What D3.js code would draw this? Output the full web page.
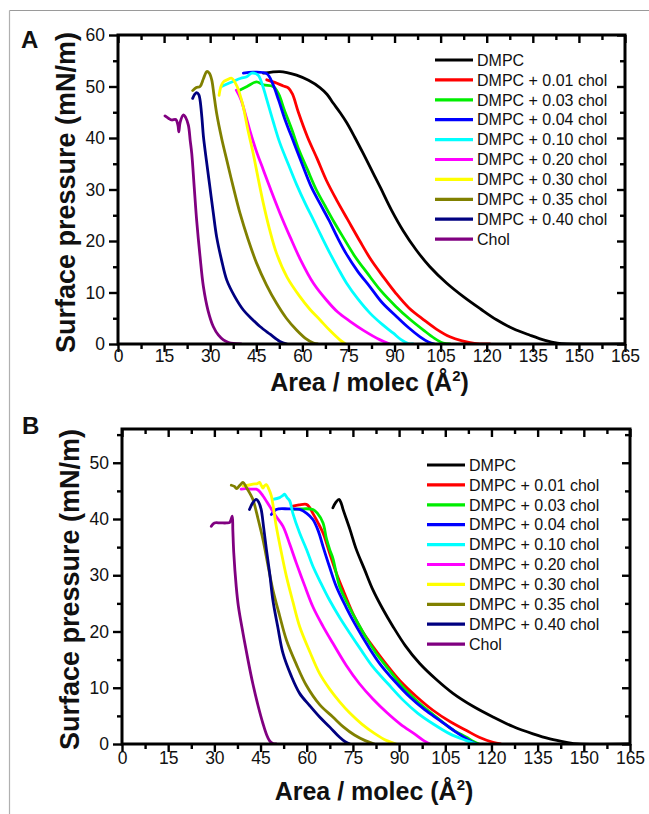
<!DOCTYPE html>
<html><head><meta charset="utf-8">
<script src="https://cdn.jsdelivr.net/npm/d3@7"></script>
<style>html,body{margin:0;padding:0;background:#fff;}svg{display:block;}</style>
</head><body>
<script>
// ---------- DATA ----------
const seriesNames = ["DMPC","DMPC + 0.01 chol","DMPC + 0.03 chol","DMPC + 0.04 chol","DMPC + 0.10 chol","DMPC + 0.20 chol","DMPC + 0.30 chol","DMPC + 0.35 chol","DMPC + 0.40 chol","Chol"];
const seriesColors = ["#000000","#ff0000","#00ee00","#0000ff","#00ffff","#ff00ff","#ffff00","#808000","#000080","#800080"];
const xTicks = [0,15,30,45,60,75,90,105,120,135,150,165];
const yTicksA = [0,10,20,30,40,50,60];
const yTicksB = [0,10,20,30,40,50];

// Panel A isotherms: [area (Å²), surface pressure (mN/m)]
const A_DMPC = [[47.3,52.6],[50,52.8],[52.7,52.9],[55,52.7],[58.1,52.2],[62,51.2],[65.7,49.8],[68,48.5],[70,46.8],[72.2,45],[74.4,43],[77,40.2],[79.8,37],[82.5,33.8],[85.3,30.5],[89,26],[92.8,22],[97,18.3],[101.5,15],[107,11.8],[112.4,9.2],[118,6.8],[123.2,4.7],[128.5,3],[134.1,1.7],[139,0.7],[143,0.15],[146,0],[165,0]];
const A_C01 = [[48.4,51.3],[51,50.8],[53.8,50.1],[55.5,49.7],[56.8,48.5],[58.7,45],[61.6,40.3],[64.8,36],[67.8,31.8],[71.3,27.8],[74.8,24.1],[78.7,20],[82.4,16.3],[86.4,13],[90.5,9.8],[94.7,7],[99.5,4.7],[103.6,2.9],[108,1.4],[112,0.6],[116,0.1],[121,0]];
const A_C03 = [[39.7,49.3],[42,50],[45.1,50.9],[47.3,50.3],[50.5,50],[52.3,48.5],[54.1,45.5],[56.6,41.6],[59,37.5],[61.7,33.8],[64.5,30],[67.5,26.7],[70.4,23.6],[73.2,20.8],[77,17.1],[81.2,13.7],[85.6,10.3],[90.4,7.3],[95,4.8],[99.4,2.7],[103,1.1],[105.8,0.2],[108,0]];
const A_C04 = [[40.8,52.6],[44,52.8],[48.4,52.5],[50.3,50.6],[52.3,47.3],[54.4,43.5],[57.3,39],[60.2,34.5],[62.9,30.5],[65.8,27.2],[68.6,24.1],[71.4,20.7],[74.2,17.6],[77.9,14.2],[82,11.1],[86,8],[90.7,5.3],[94.5,3.2],[98.3,1.4],[101,0.4],[103,0]];
const A_C10 = [[33.7,50],[35.5,50.5],[37.5,51],[40,51.6],[41.9,51.9],[43.5,52.6],[45.6,52.2],[47,50.3],[48.4,47.5],[50.5,43.2],[52.7,39],[55.5,34.8],[58.1,31],[61,27.2],[63.6,24.1],[66.3,20.8],[69,17.6],[71.7,14.6],[74.4,11.8],[78,8.8],[82,6],[86,3.8],[89.6,2.1],[92,0.9],[94.5,0.1],[96,0]];
const A_C20 = [[38.5,49.3],[40,47.5],[41.5,44.5],[43,41.3],[45,37.5],[47.3,33.8],[50,29.5],[52.7,25.4],[56,20.8],[59.2,16.6],[63.6,11.8],[67.9,8.5],[71.5,6.2],[75.5,4.4],[80,2.6],[85.3,0.8],[88.5,0]];
const A_C30 = [[32.9,48.3],[33.5,50],[34.3,50.9],[35.5,51.3],[37,51.6],[38.6,50.2],[40,47.8],[40.8,46],[42.3,41.5],[44,37],[45.6,32.2],[47.3,27.3],[49.3,22.3],[51.6,17.6],[55,13],[59.2,9.2],[62.5,6.7],[65.7,4.7],[69,2.6],[72.2,0.8],[74,0]];
const A_C35 = [[24.3,49.2],[25.5,49.8],[26.7,50],[27.8,51.5],[28.9,52.9],[29.7,52.6],[30.5,51.3],[31.2,48.5],[32.1,44.8],[33.7,40],[35.4,35.7],[37.5,30.5],[39.7,25.4],[42.3,20.4],[45.1,15.7],[48.3,11.5],[51.6,7.9],[54.8,5],[58.1,2.7],[61,1.1],[63.6,0.2],[65,0]];
const A_C40 = [[24.3,47.7],[25,48.5],[25.6,48.8],[26.3,48.4],[26.7,47.4],[27.3,44],[27.8,40.3],[28.8,35.5],[29.9,30.5],[31,25.5],[32.1,20.8],[33.7,16.3],[35.4,12.4],[38,9.2],[40.8,6.6],[43.5,4.9],[46.2,3.4],[49.5,1.9],[52.7,0.5],[55,0]];
const A_Chol = [[15.3,44.3],[16.5,43.8],[17.5,43.5],[18.8,43.6],[19.5,42.5],[19.8,41.2],[20.2,43],[21.3,44.5],[22,44],[22.9,42.5],[23.5,39.5],[24,37],[24.8,30.5],[25.6,24],[26.7,17],[27.8,11.1],[29.3,6.5],[31,3.4],[32.7,1.7],[34.3,0.8],[36,0.3],[37.5,0.1],[40,0]];

// Panel B isotherms
const B_DMPC = [[68.5,42],[69.5,43],[70.5,43.5],[71.2,42.8],[71.8,41.7],[74,38.2],[76.1,34.6],[78.8,31],[81.5,27.4],[84.7,24],[88,20.9],[92,17.5],[96.7,14.3],[102,11.5],[107.5,9],[114,6.7],[120.5,4.8],[127,3.1],[133.5,1.8],[139,0.9],[144.4,0.3],[148,0],[165,0]];
const B_C01 = [[55.5,42.3],[57.5,42.5],[59.9,42.6],[61,42],[62,41],[63.5,39.5],[65.3,37.5],[67.4,34],[69.6,30.4],[72.3,26.7],[75,23.2],[78,20.1],[81.5,17.3],[85.8,14.2],[90.2,11.3],[95.5,8.5],[101,6],[106.5,4],[111.9,2.4],[116,1.2],[120.5,0.3],[123,0]];
const B_C03 = [[55.5,41.7],[58,41.8],[62,41.7],[63.5,41],[65.3,39.3],[66.4,36.5],[67.5,34.5],[68.5,33],[70.7,28],[73.4,24.8],[76.1,22],[79.2,19],[82.6,16.1],[87,13],[91.3,10.1],[96.5,7.3],[102.1,4.8],[107,2.7],[111.9,1.2],[114,0.5],[116,0]];
const B_C04 = [[48.5,40.8],[50.1,41.7],[54,41.8],[57.7,41.7],[60,41],[62,39.9],[63.8,37.8],[65.3,35.1],[67.4,31.5],[69.6,28],[72.8,24.3],[76.1,20.9],[79.8,17.5],[83.7,14.3],[88.5,11.2],[93.4,8.4],[98.3,6.1],[103.2,4.2],[108,2.3],[112.9,0.6],[115,0]];
const B_C10 = [[49,43.5],[51.2,43.8],[52.3,44.2],[52.8,44.4],[53.6,43.8],[54.5,43.2],[55.5,41],[57.7,37.5],[60,34.5],[62,31.6],[64.7,28.5],[67.4,25.6],[70.7,22.5],[74,19.7],[77.8,16.6],[81.5,13.7],[86.4,10.7],[91.3,7.8],[96,5.5],[101,3.6],[106.5,1.8],[111.9,0.6],[115,0]];
const B_C20 = [[38.7,45.3],[40,45.4],[42,45.3],[43.6,45.3],[44.5,45],[45.8,44.1],[47.9,42.3],[50,40.5],[52.3,38.7],[54.5,35.5],[56.6,32.2],[59.3,28.2],[62,24.4],[65.2,21],[68.5,17.9],[72.8,14],[77,10.8],[81.5,8],[86,5.6],[90.5,3.5],[95,1.8],[98,0.6],[100,0]];
const B_C30 = [[39.3,45.9],[41,46],[42.5,46.2],[44,46.3],[44.7,46.5],[45.3,45.9],[45.8,45.5],[46.3,45.9],[46.9,46.1],[47.7,45.3],[48.5,44.1],[50.1,38.7],[51.7,34.2],[53.4,29.8],[55.5,25.3],[57.7,20.9],[61,16.4],[64.2,12.5],[67.4,9.8],[70.7,7.5],[74,5.5],[78,3.5],[82,1.9],[86,0.6],[89,0]];
const B_C35 = [[35.5,46],[36.5,45.8],[37.2,45.4],[38.3,46],[39.3,46.5],[40.3,45.7],[41.4,44.7],[42.5,43.5],[44.2,40],[45.8,36.3],[47.4,31.8],[49,27.4],[51.2,22.8],[53.4,18.5],[56.6,14.2],[59.9,10.4],[64.2,7],[68.5,4.8],[72,3],[75.5,1.6],[79,0.6],[82,0]];
const B_C40 = [[41.4,41.7],[42.5,42.9],[43.6,43.5],[44.4,43],[45.2,41.7],[46,38.5],[46.9,34.6],[48,30.2],[49,25.6],[50.6,20.8],[52.3,16.1],[54.9,12.2],[57.7,9],[61,6.8],[64.2,4.8],[67.5,3],[70.7,1.2],[72.5,0.4],[74,0]];
const B_Chol = [[29,38.7],[30,39.3],[32,39.3],[34,39.3],[35,39.4],[35.8,40.5],[36,38],[36.3,34],[37.1,28],[37.8,24.5],[39.3,19.7],[40.9,15],[42.5,10.7],[44.2,6.8],[45.8,3.6],[47,1.6],[47.9,0.6],[49,0.1],[50,0]];

const panelAData = [A_DMPC,A_C01,A_C03,A_C04,A_C10,A_C20,A_C30,A_C35,A_C40,A_Chol];
const panelBData = [B_DMPC,B_C01,B_C03,B_C04,B_C10,B_C20,B_C30,B_C35,B_C40,B_Chol];

// ---------- DRAW ----------
const W = 649, H = 814;
const FONT = "'Liberation Sans', Arial, Helvetica, sans-serif";
const svg = d3.select("body").append("svg").attr("width", W).attr("height", H)
  .style("font-family", FONT);

// outer frame lines
svg.append("line").attr("x1",9.5).attr("x2",W).attr("y1",10.5).attr("y2",10.5).attr("stroke","#9a9a9a").attr("stroke-width",1.2);
svg.append("line").attr("x1",9.5).attr("x2",9.5).attr("y1",10.5).attr("y2",H).attr("stroke","#b0b0b0").attr("stroke-width",1.2);

function panel(cfg) {
  const {left,right,top,bottom,yMax,yTicks,data,label,labelPos,legendX,legendY,xTitleY,labelPad} = cfg;
  const x = d3.scaleLinear().domain([0,165]).range([left,right]);
  const y = d3.scaleLinear().domain([0,yMax]).range([bottom,top]);
  const g = svg.append("g");

  // curves (clipped)
  const clipId = "clip" + label;
  svg.append("clipPath").attr("id",clipId).append("rect")
    .attr("x",left).attr("y",top).attr("width",right-left).attr("height",bottom-top);
  const line = d3.line().x(d=>x(d[0])).y(d=>y(d[1])).curve(d3.curveCatmullRom.alpha(0.5));
  const cg = g.append("g").attr("clip-path",`url(#${clipId})`);
  data.forEach((s,i)=>{
    cg.append("path").attr("d",line(s)).attr("fill","none")
      .attr("stroke",seriesColors[i]).attr("stroke-width",2.8)
      .attr("stroke-linejoin","round").attr("stroke-linecap","round");
  });

  const minorX = d3.range(7.5,165,15);
  const minorY = d3.range(5,yMax,10);
  const tickStyle = sel => sel.call(s=>s.select(".domain").remove())
      .call(s=>s.selectAll("line").attr("stroke","#000").attr("stroke-width",2.4));

  // bottom axis: ticks and labels drawn separately so labels sit just below tick ends
  g.append("g").attr("transform",`translate(0,${bottom})`)
    .call(d3.axisBottom(x).tickValues(xTicks).tickSize(8).tickFormat(""))
    .call(tickStyle);
  g.append("g").attr("transform",`translate(0,${bottom})`)
    .call(d3.axisBottom(x).tickValues(minorX).tickSize(5).tickFormat(""))
    .call(tickStyle);
  g.append("g").attr("transform",`translate(0,${bottom})`)
    .call(d3.axisBottom(x).tickValues(xTicks).tickSize(0).tickPadding(labelPad).tickFormat(d3.format("d")))
    .call(s=>s.select(".domain").remove())
    .call(s=>s.selectAll("line").remove())
    .call(s=>s.selectAll("text").attr("font-size",17.5).attr("font-family",FONT).attr("fill","#111"));
  // top axis (inward)
  g.append("g").attr("transform",`translate(0,${top})`)
    .call(d3.axisBottom(x).tickValues(xTicks).tickSize(8).tickFormat(""))
    .call(tickStyle);
  g.append("g").attr("transform",`translate(0,${top})`)
    .call(d3.axisBottom(x).tickValues(minorX).tickSize(5).tickFormat(""))
    .call(tickStyle);
  // left axis
  g.append("g").attr("transform",`translate(${left},0)`)
    .call(d3.axisLeft(y).tickValues(yTicks).tickSize(9).tickPadding(4).tickFormat(d3.format("d")))
    .call(tickStyle)
    .call(s=>s.selectAll("text").attr("font-size",17.5).attr("font-family",FONT).attr("fill","#111"));
  g.append("g").attr("transform",`translate(${left},0)`)
    .call(d3.axisLeft(y).tickValues(minorY).tickSize(5).tickFormat(""))
    .call(tickStyle);
  // right axis (inward)
  g.append("g").attr("transform",`translate(${right},0)`)
    .call(d3.axisLeft(y).tickValues(yTicks).tickSize(8).tickFormat(""))
    .call(tickStyle);
  g.append("g").attr("transform",`translate(${right},0)`)
    .call(d3.axisLeft(y).tickValues(minorY).tickSize(5).tickFormat(""))
    .call(tickStyle);

  // frame
  g.append("rect").attr("x",left).attr("y",top).attr("width",right-left).attr("height",bottom-top)
    .attr("fill","none").attr("stroke","#000").attr("stroke-width",3);

  // axis titles
  const xt = g.append("text").attr("x",(left+right)/2 - 2).attr("y",xTitleY)
    .attr("text-anchor","middle").attr("font-size",25).attr("font-weight","bold").attr("fill","#111");
  xt.append("tspan").text("Area / molec (Å");
  xt.append("tspan").text("2").attr("font-size",15).attr("dy",-10);
  xt.append("tspan").text(")").attr("dy",10);
  g.append("text").attr("transform",`translate(${left-43},${(top+bottom)/2 + 3}) rotate(-90)`)
    .attr("text-anchor","middle").attr("font-size",27).attr("font-weight","bold").attr("fill","#111")
    .text("Surface pressure (mN/m)");

  // panel label
  g.append("text").attr("x",labelPos[0]).attr("y",labelPos[1]).attr("font-size",24)
    .attr("font-weight","bold").attr("fill","#111").text(label);

  // legend
  seriesNames.forEach((n,i)=>{
    const ly = legendY + i*19.9;
    g.append("line").attr("x1",legendX).attr("x2",legendX+38).attr("y1",ly).attr("y2",ly)
      .attr("stroke",seriesColors[i]).attr("stroke-width",3.2);
    g.append("text").attr("x",legendX+42).attr("y",ly).attr("dy","0.36em")
      .attr("font-size",16).attr("fill","#111").text(n);
  });
}

panel({left:118,right:625,top:35,bottom:344,yMax:60,yTicks:yTicksA,data:panelAData,
  label:"A",labelPos:[21,48],legendX:435,legendY:60,xTitleY:391,labelPad:6});
panel({left:122,right:630,top:429,bottom:744,yMax:56,yTicks:yTicksB,data:panelBData,
  label:"B",labelPos:[22,434],legendX:427,legendY:465,xTitleY:800,labelPad:8});
</script>
</body></html>
